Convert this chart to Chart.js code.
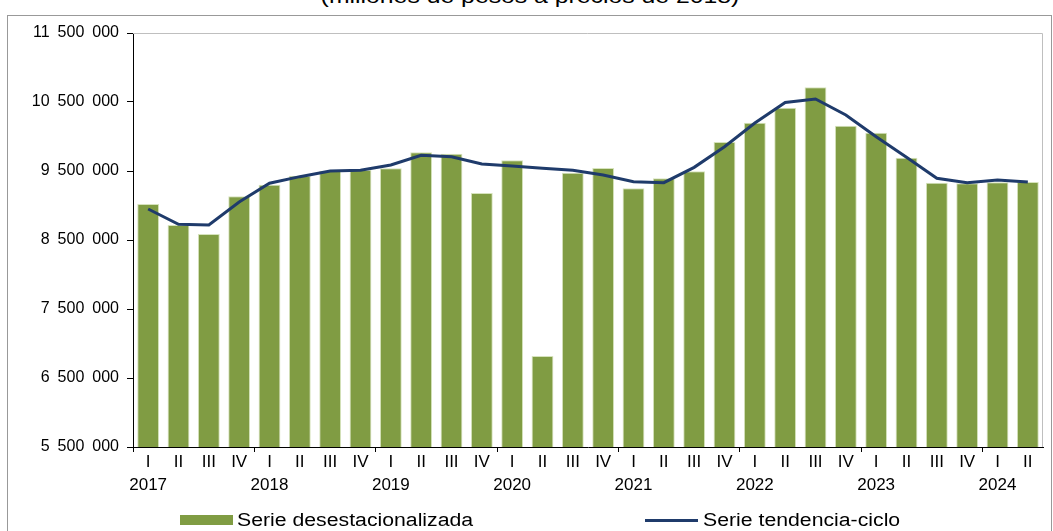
<!DOCTYPE html>
<html>
<head>
<meta charset="utf-8">
<script src="https://cdn.jsdelivr.net/npm/chart.js@4"></script>
<style>
  body { margin: 0; background: #fff; font-family: Arial, "Liberation Sans", sans-serif; }
  #wrap { position: relative; width: 1053px; height: 531px; overflow: hidden; }
  #frame { position: absolute; left: 7px; top: 15px; width: 1043px; height: 600px; border: 1px solid #999; }
  #title { position: absolute; left: 530px; top: -15px; line-height: 21px; font-size: 21px; color: #000;
           white-space: nowrap; transform: translateX(-50%) scaleX(1.18); }
  #chart { position: absolute; left: 0; top: 0; }
  .lg { position: absolute; font-size: 18px; line-height: 20px; top: 510px; color: #000;
        white-space: nowrap; transform: scaleX(1.18); transform-origin: left center; }
  .sw { position: absolute; }
</style>
</head>
<body>
<div id="wrap">
  <div id="frame"></div>
  <div id="title">(millones de pesos a precios de 2018)</div>
  <canvas id="chart" width="1053" height="531"></canvas>
  <div class="sw" style="left:180px;top:515px;width:53px;height:10px;background:#809C43"></div>
  <div class="lg" style="left:237px">Serie desestacionalizada</div>
  <div class="sw" style="left:645px;top:519px;width:53px;height:3px;background:#1F3B6B"></div>
  <div class="lg" style="left:703px">Serie tendencia-ciclo</div>
</div>
<script>
const years = ['2017','2018','2019','2020','2021','2022','2023','2024'];
const quarters = ['I','II','III','IV'];
const nQuarters = 30;

// serie desestacionalizada (millones de pesos)
const desest = [9020000, 8717000, 8587000, 9133000, 9301000, 9432000, 9500000, 9514000,
  9539000, 9771000, 9751000, 9181000, 9655000, 6819000, 9476000, 9543000,
  9249000, 9394000, 9495000, 9920000, 10200000, 10417000, 10713000, 10157000,
  10055000, 9693000, 9331000, 9322000, 9336000, 9341000];

// serie tendencia-ciclo
const tendencia = [8949000, 8727000, 8717000, 9050000, 9322000, 9418000, 9500000, 9510000,
  9587000, 9727000, 9707000, 9601000, 9572000, 9540000, 9510000, 9442000,
  9345000, 9331000, 9553000, 9852000, 10196000, 10494000, 10544000, 10312000,
  9997000, 9698000, 9394000, 9331000, 9370000, 9341000];

const labels = [];
for (let i = 0; i < nQuarters; i++) {
  const q = quarters[i % 4];
  labels.push(i % 4 === 0 ? [q, years[i / 4]] : [q, '']);
}

const fmt = v => String(v).replace(/\B(?=(\d{3})+(?!\d))/g, '\u2002');

const plotBorder = {
  id: 'plotBorder',
  beforeDatasetsDraw(chart) {
    const {ctx, chartArea: a} = chart;
    ctx.save();
    ctx.strokeStyle = '#BFBFBF';
    ctx.lineWidth = 1;
    ctx.beginPath();
    ctx.moveTo(a.left, a.top + 0.5);
    ctx.lineTo(a.right - 0.5, a.top + 0.5);
    ctx.lineTo(a.right - 0.5, a.bottom);
    ctx.stroke();
    ctx.restore();
  }
};

new Chart(document.getElementById('chart'), {
  data: {
    labels: labels,
    datasets: [
      {
        type: 'line',
        label: 'Serie tendencia-ciclo',
        data: tendencia,
        borderColor: '#1F3B6B',
        borderWidth: 3,
        pointRadius: 0,
        tension: 0,
        fill: false,
        order: 0
      },
      {
        type: 'bar',
        label: 'Serie desestacionalizada',
        data: desest,
        backgroundColor: '#809C43',
        borderColor: '#D6E3BC',
        borderWidth: 1,
        barPercentage: 0.72,
        categoryPercentage: 1,
        order: 1
      }
    ]
  },
  options: {
    responsive: false,
    animation: false,
    layout: { padding: { top: 33, right: 10, left: 0, bottom: 0 } },
    plugins: {
      legend: { display: false },
      tooltip: { enabled: false }
    },
    scales: {
      x: {
        offset: true,
        afterFit: s => { s.height = 84; },
        border: { display: true, color: '#000', width: 1 },
        grid: {
          offset: true,
          drawOnChartArea: false,
          drawTicks: true,
          tickLength: 5,
          color: c => (c.index % 4 === 0 ? '#000' : 'rgba(0,0,0,0)')
        },
        ticks: {
          maxRotation: 0,
          autoSkip: false,
          padding: -1,
          color: '#000',
          font: { family: 'Arial, "Liberation Sans"', size: 17, lineHeight: 1.35 }
        }
      },
      y: {
        min: 5500000,
        max: 11500000,
        afterFit: s => { s.width = 133; },
        border: { display: true, color: '#000', width: 1 },
        grid: {
          drawOnChartArea: false,
          drawTicks: true,
          tickLength: 6,
          color: '#000'
        },
        ticks: {
          stepSize: 1000000,
          padding: 8,
          color: '#000',
          font: { family: 'Arial, "Liberation Sans"', size: 16 },
          callback: v => fmt(v)
        }
      }
    }
  },
  plugins: [plotBorder]
});
</script>
</body>
</html>
